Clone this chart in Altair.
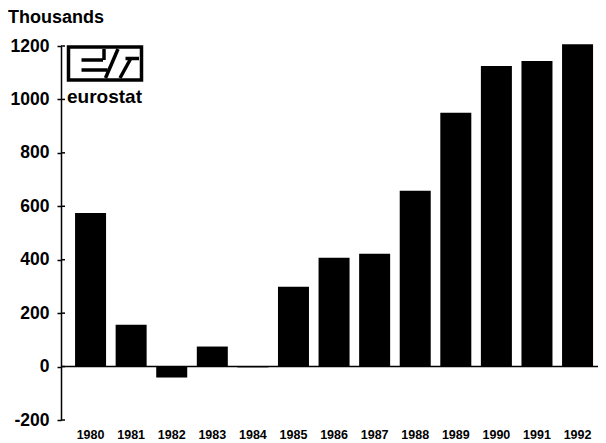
import altair as alt
import pandas as pd

years = ["1980", "1981", "1982", "1983", "1984", "1985", "1986",
         "1987", "1988", "1989", "1990", "1991", "1992"]
values = [575, 157, -41, 75, -3, 299, 407, 422, 658, 950, 1125, 1144, 1207]
y_ticks = [-200, 0, 200, 400, 600, 800, 1000, 1200]
unit_label = "Thousands"
logo_text = "eurostat"

FONT = "Liberation Sans"
W, H = 537, 374

df = pd.DataFrame({"year": years, "value": values})
ticks_df = pd.DataFrame({"t": y_ticks})

yscale = alt.Scale(domain=[-200, 1200], nice=False, zero=False)
xscale = alt.Scale(paddingInner=0.236, paddingOuter=0.234, align=0.74)

bars = alt.Chart(df).mark_bar(color="black").encode(
    x=alt.X("year:N", sort=None, scale=xscale,
            axis=alt.Axis(title=None, labelAngle=0, ticks=False, domain=False,
                          labelFont=FONT, labelFontWeight="bold", labelFontSize=12.5,
                          labelPadding=8, labelColor="black")),
    y=alt.Y("value:Q", scale=yscale,
            axis=alt.Axis(values=y_ticks, title=None, grid=False,
                          labelExpr="'' + datum.value",
                          domainColor="black", domainWidth=1.5,
                          tickColor="black", tickSize=4, tickWidth=1.5,
                          labelFont=FONT, labelFontSize=17.5, labelFontWeight="bold",
                          labelPadding=8, labelColor="black")),
)

zero = alt.Chart(pd.DataFrame({"z": [0]})).mark_rule(color="black", strokeWidth=1.5).encode(
    y=alt.Y("z:Q", scale=yscale), x=alt.value(0), x2=alt.value(W)
)

inner_ticks = alt.Chart(ticks_df).mark_rule(color="black", strokeWidth=1.5).encode(
    y=alt.Y("t:Q", scale=yscale), x=alt.value(0), x2=alt.value(4)
)

title = alt.Chart(pd.DataFrame({"t": [unit_label]})).mark_text(
    align="left", baseline="alphabetic", fontSize=18, fontWeight="bold", font=FONT, color="black"
).encode(text="t:N", x=alt.value(-53), y=alt.value(-23))

# eurostat logo (decoration)
logo_box = alt.Chart(pd.DataFrame({"a": [0]})).mark_rect(
    fill="white", stroke="black", strokeWidth=3.5
).encode(x=alt.value(7.5), x2=alt.value(80.5), y=alt.value(1), y2=alt.value(34))

seg = pd.DataFrame({
    "x1": [20.5, 20.5, 43, 44.5, 59, 64.5],
    "y1": [14, 24, 3, 32, 32, 12.5],
    "x2": [42, 46.5, 43, 57, 69.5, 78],
    "y2": [14, 24, 14, 3, 13, 12.5],
})
logo_lines = alt.Chart(seg).mark_rule(color="black", strokeWidth=3.5).encode(
    x=alt.X("x1:Q", scale=None), y=alt.Y("y1:Q", scale=None),
    x2="x2:Q", y2="y2:Q"
)
logo_word = alt.Chart(pd.DataFrame({"t": [logo_text]})).mark_text(
    align="left", baseline="alphabetic", fontSize=19, fontWeight="bold", font=FONT, color="black"
).encode(text="t:N", x=alt.value(6), y=alt.value(57))

chart = alt.layer(zero, bars, inner_ticks, title, logo_box, logo_lines, logo_word).properties(
    width=W, height=H,
    autosize=alt.AutoSizeParams(type="none"),
    padding={"left": 53, "top": 38, "right": 0, "bottom": 24},
    background="white",
).configure_view(stroke=None)

chart.save("out.html", embed_options={"renderer": "svg", "actions": False})
